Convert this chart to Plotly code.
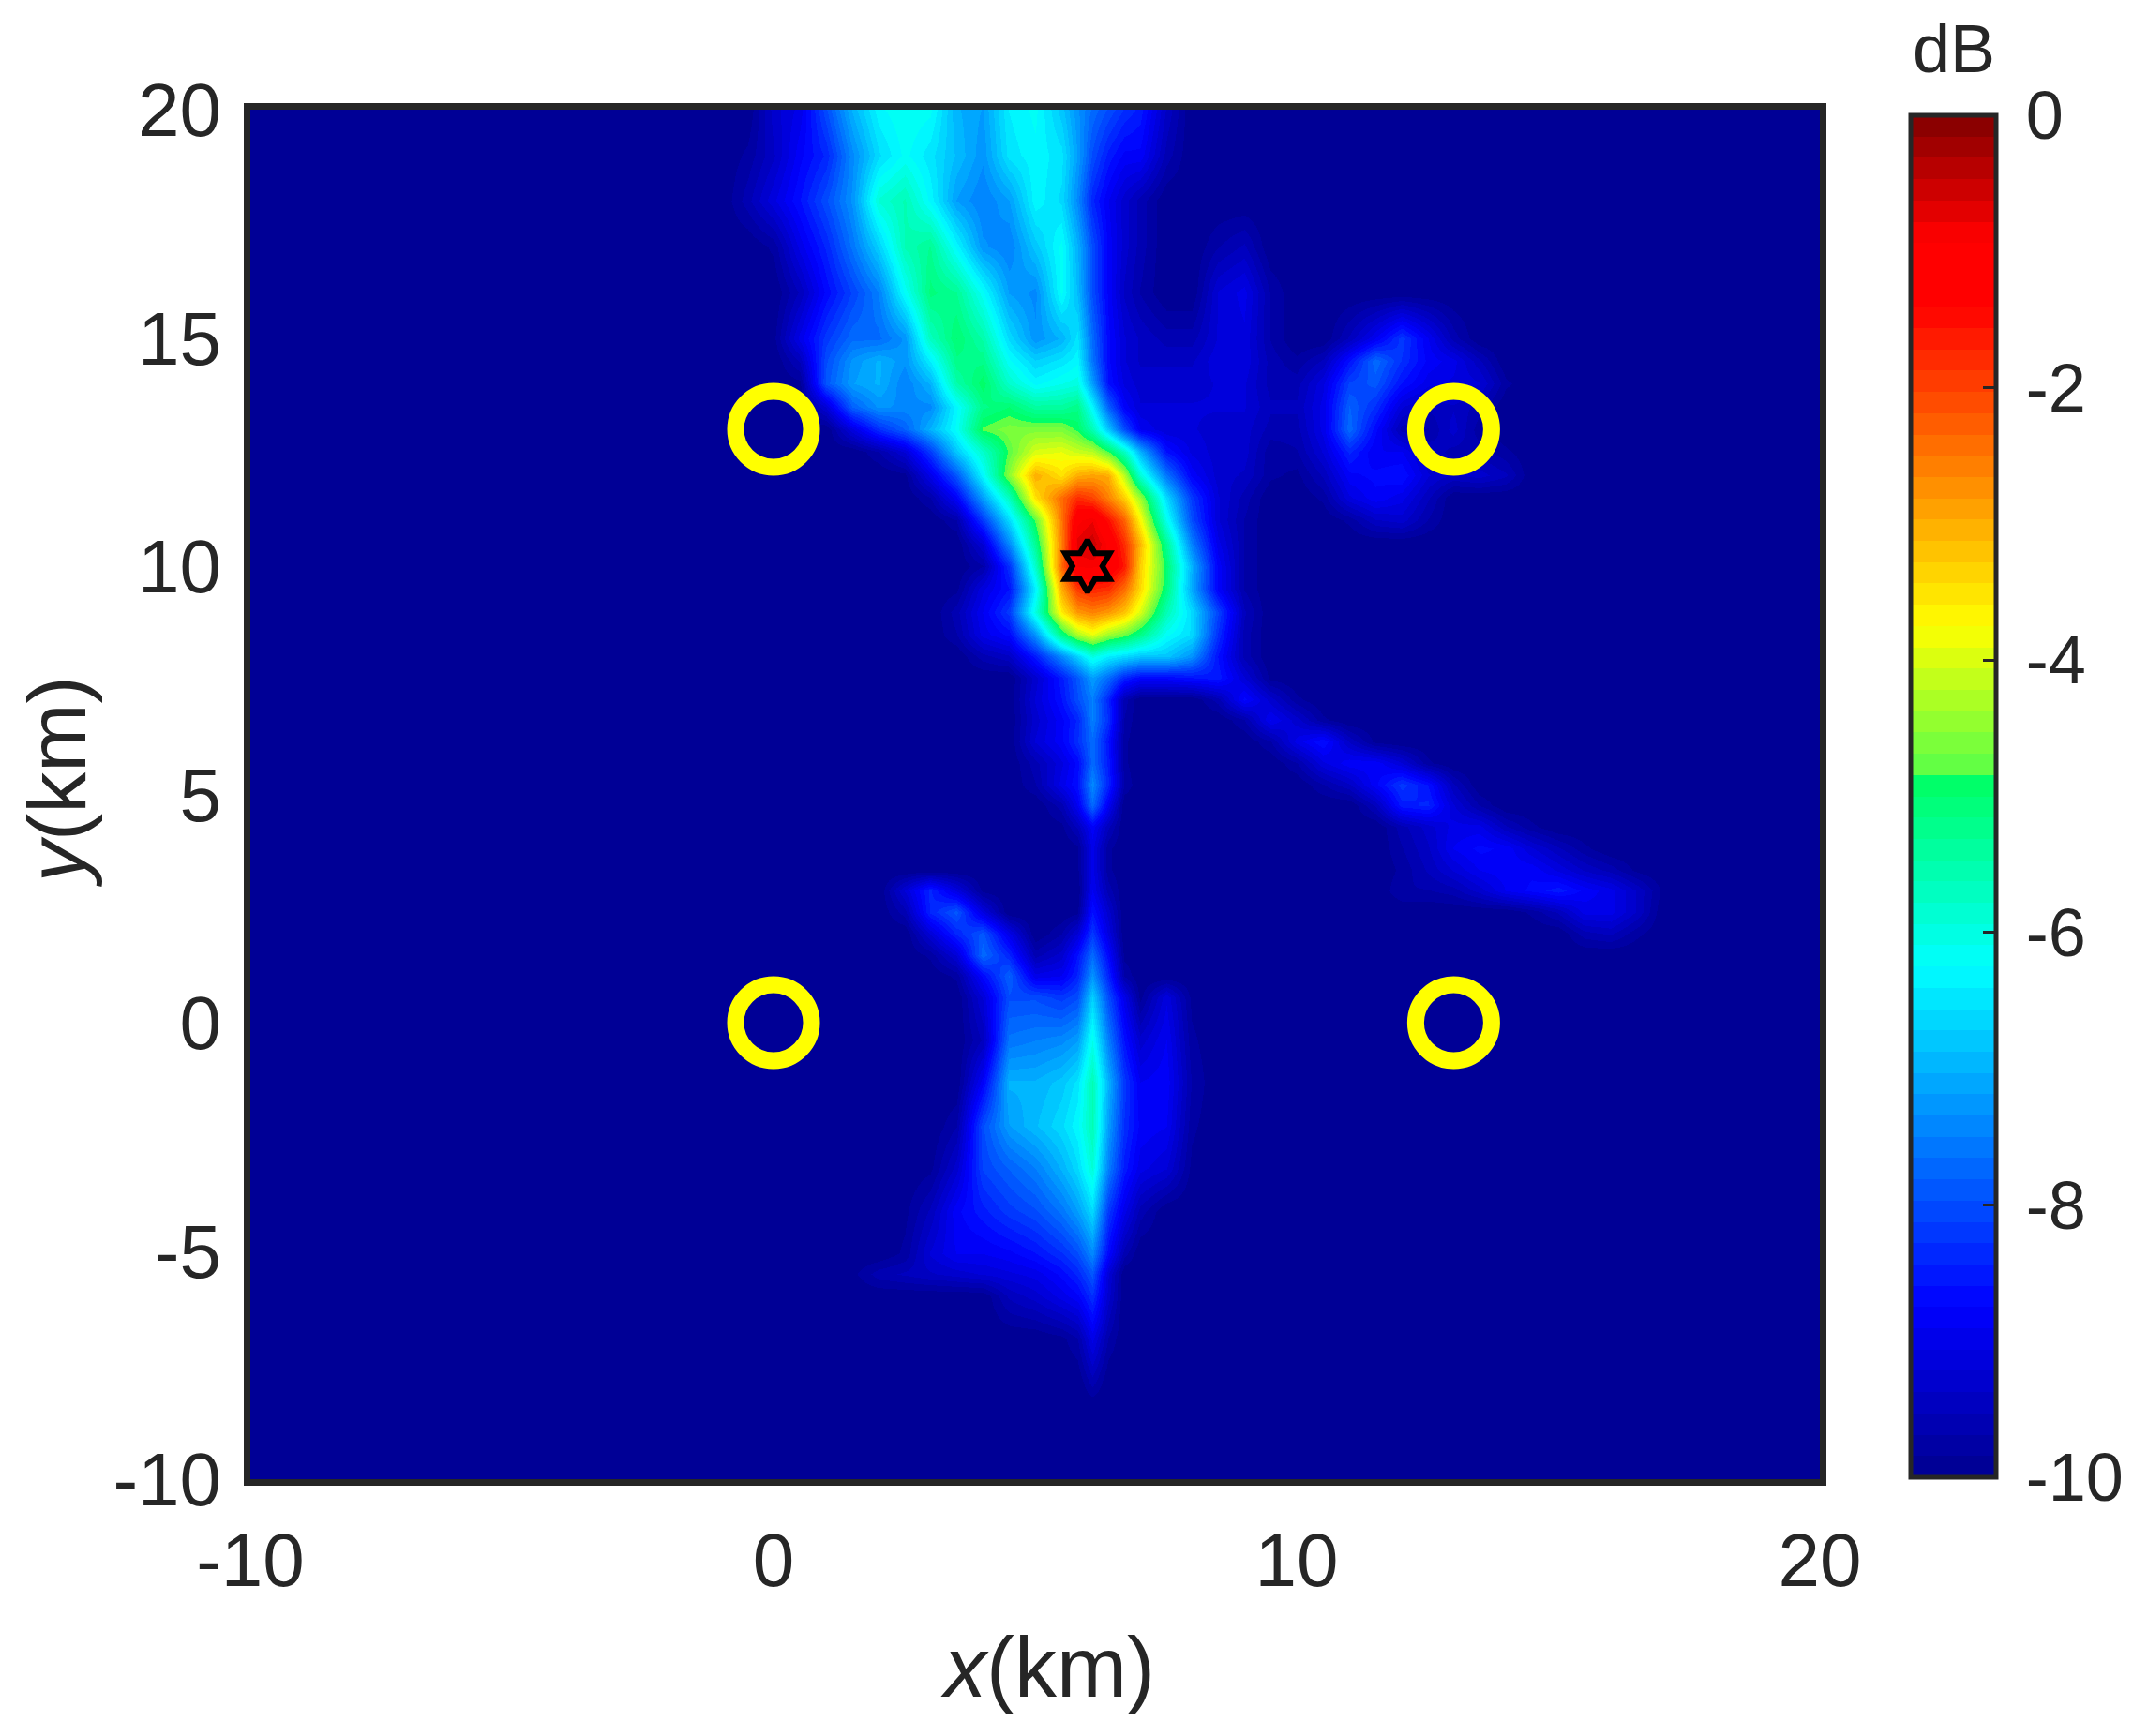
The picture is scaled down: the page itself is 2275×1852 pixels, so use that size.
import numpy as np
import plotly.graph_objects as go

_ = -10  # background level (dB)

# grid, km
X_KM = [-1, -0.5, 0, 0.5, 1, 1.5, 2, 2.5, 3, 3.5, 4, 4.5, 5, 5.5, 5.8, 6.1, 6.4, 6.7,
        7, 7.5, 8, 8.5, 9, 9.5, 10, 10.5, 11, 11.5, 12, 12.5, 13, 13.5, 14, 14.5, 15, 15.5, 16, 16.5, 17]

Y_KM = [20, 19, 18, 17, 16, 15, 14.5, 14, 13.5, 13, 12.5, 12, 11.5, 11, 10.5, 10, 9.5, 9, 8.5,
        8.03, 7.56, 7.09, 6.63, 6.16, 5.69, 5.22, 4.76, 4.29, 3.82, 3.35, 2.89, 2.42, 1.95, 1.48,
        1.02, 0.55, -0.39, -1.32, -2.26, -3.19, -4.13, -5.06, -5.5, -6, -6.93, -7.87, -8.4, -10]

# one row per Y_KM entry, columns follow X_KM, anything missing at the right end is background
Z_ROWS = [
    [_, _, -9.3, -9, -8, -7, -6.3, -6.1, -6.2, -7, -7.2, -6.4, -6.2, -6.8, -7.3, -7.7, -8, -8.3, -8.5, -9.4],
    [_, -9.8, -9.4, -8.8, -8.4, -7.4, -6.6, -6.2, -6.5, -6.9, -7.3, -6.5, -6.3, -6.5, -7.2, -8, -8.5, -8.8, -8.8, -9.6],
    [_, -9.6, -9.1, -8.6, -8, -7.3, -5.9, -5.6, -6.3, -7.2, -7.5, -7.2, -6.3, -6.6, -7.4, -8.4, -8.9, -9.3, -9.6],
    [_, _, -9.8, -9, -8.4, -7.6, -6.7, -5.6, -5.3, -6.3, -7.3, -7.5, -6.8, -6.2, -7, -8, -8.8, -9.3, -9.6, _, _, -9.7, -9.5],
    [_, _, _, -9.5, -8.7, -8.1, -7.5, -6.2, -5.1, -5.3, -6.2, -7.2, -7.4, -6.2, -6.9, -8, -8.8, -9.4, -9.7, _, _, -9.2, -9, -9.7],
    [_, _, -9.9, -9, -8.2, -7.7, -7.7, -7.3, -5.7, -5, -5.5, -6.6, -7.3, -7, -6.5, -7.7, -8.7, -9.2, -9.4, -9.6, -9.6, -9.2, -9.1, -9.7, _, _, -9.5, -8.9, -8.2, -8.9, -9.6],
    [_, _, _, -9.5, -8, -7.3, -7, -7.3, -6.4, -5.2, -5.2, -6.2, -6.7, -6.5, -6.3, -7.6, -8.7, -9.2, -9.4, -9.4, -9.4, -9.1, -9.1, -9.6, -9.8, -9.5, -8.6, -7.7, -8.3, -8.8, -9, -9.5],
    [_, _, _, -9.9, -7.9, -7.2, -7, -7.5, -7, -5.5, -4.9, -5.8, -6.3, -6.1, -6, -7.2, -8.6, -9.1, -9.3, -9.3, -9.3, -9.2, -9.2, -9.6, -9.6, -9.1, -8.1, -7.9, -8.6, -9, -9.1, -9.2, -9.8],
    [_, _, _, _, -9.2, -7.8, -7.3, -7.4, -7.4, -6.3, -5.2, -5, -5.4, -5.4, -5.2, -6.3, -7.8, -8.8, -9.2, -9.2, -9.2, -9.2, -9.2, -9.5, -9.5, -9, -7.8, -8.3, -9.2, -9.5, -9.4, -9.6],
    [_, _, _, _, _, -9.1, -8.3, -7.8, -7, -6.2, -4.8, -4.6, -4.6, -4.6, -4.9, -5.6, -6.8, -8, -8.9, -9.2, -9.2, -9.3, -9.3, -9.6, -9.6, -9, -7.7, -8.7, -9.6, -9.7, -9.3, -9.8],
    [_, _, _, _, _, _, -9.7, -9.2, -8.2, -6.8, -5.8, -4.8, -4, -3.9, -4.1, -4.2, -4.8, -5.7, -7, -8.6, -9.1, -9.3, -9.3, -9.8, -9.7, -9.2, -8.4, -8.9, -8.9, -9.4, -9.6, -9.6, -9.8],
    [_, _, _, _, _, _, _, -9.9, -9, -7.9, -6.3, -4.5, -3, -3.5, -3, -2.9, -3, -4.2, -5.9, -7.6, -8.8, -9.3, -9.4, -9.8, -9.9, -9.5, -8.8, -8.7, -8.6, -9.2, -9.4, -9.3, -9.5],
    [_, _, _, _, _, _, _, _, -9.7, -8.8, -7.2, -5.7, -3.5, -2.4, -1.8, -2, -2.6, -3.3, -4.4, -6.6, -8.2, -9.2, -9.6, _, _, -9.8, -9.1, -8.8, -9, -9.5],
    [_, _, _, _, _, _, _, _, _, -9.7, -8.2, -6.6, -4.8, -2.5, -1, -0.8, -1.5, -2.3, -3.7, -6.1, -8, -9.2, -9.7, _, _, _, -9.8, -9.4, -9.3, -9.7],
    [_, _, _, _, _, _, _, _, _, _, -9.2, -7.4, -5.3, -2.6, -0.7, -0.5, -1, -1.8, -3.1, -5.3, -7.5, -9, -9.7],
    [_, _, _, _, _, _, _, _, _, _, -9.7, -8.3, -5.8, -2.4, -0.9, -0.9, -1, -1.6, -3.3, -5, -7, -8.8, -9.7],
    [_, _, _, _, _, _, _, _, _, -9.9, -9.1, -8.6, -6.4, -3, -1.9, -1.7, -1.8, -2.4, -3.4, -5.1, -7.1, -8.8, -9.7],
    [_, _, _, _, _, _, _, _, _, -9.6, -8.9, -8.2, -6, -3.6, -2.8, -2.6, -2.8, -3.2, -4, -5.6, -6.6, -8.1, -9.5],
    [_, _, _, _, _, _, _, _, _, -9.7, -9, -8.7, -7.3, -5.2, -4.3, -3.9, -4.4, -4.7, -5.2, -6.2, -6.6, -8.3, -9.6],
    [_, _, _, _, _, _, _, _, _, _, -9.6, -9.4, -8.5, -7.4, -6.7, -6, -6.4, -6.6, -6.8, -6.8, -7.3, -8.6, -9.6],
    [_, _, _, _, _, _, _, _, _, _, _, _, -9.3, -8.5, -7.9, -7.2, -7.7, -8.4, -8.7, -8.7, -8.6, -8.5, -9.2, -9.9],
    [_, _, _, _, _, _, _, _, _, _, _, _, -9.2, -8.6, -8, -7.5, -8.4, -9.6, _, _, _, -9.6, -8.7, -9.3, -9.8],
    [_, _, _, _, _, _, _, _, _, _, _, _, -9.3, -8.8, -8.4, -7.5, -8.3, -9.7, _, _, _, _, -9.7, -8.9, -9.3, -9.8],
    [_, _, _, _, _, _, _, _, _, _, _, _, -9.2, -8.8, -8.3, -7.7, -8.6, -9.8, _, _, _, _, _, -9.7, -9, -8.6, -9.4, -9.9],
    [_, _, _, _, _, _, _, _, _, _, _, _, -9.6, -9.1, -8.7, -7.7, -8.5, -9.8, _, _, _, _, _, _, -9.7, -9.1, -8.8, -8.8, -9.2, -9.8],
    [_, _, _, _, _, _, _, _, _, _, _, _, -9.7, -9, -8.6, -7.4, -8.4, -9.7, _, _, _, _, _, _, _, -9.7, -9.4, -8.8, -8.2, -8.6, -9.5],
    [_, _, _, _, _, _, _, _, _, _, _, _, _, -9.6, -8.9, -7.7, -8.9, _, _, _, _, _, _, _, _, _, _, -9.5, -8.5, -8.4, -9.2, -9.7],
    [_, _, _, _, _, _, _, _, _, _, _, _, _, -9.9, -9.5, -8.8, -9.5, _, _, _, _, _, _, _, _, _, _, _, -9.6, -9.3, -9, -9, -9.5, -9.8],
    [_, _, _, _, _, _, _, _, _, _, _, _, _, _, -9.9, -9, -9.8, _, _, _, _, _, _, _, _, _, _, _, -9.7, -9.4, -8.9, -8.7, -8.8, -9.2, -9.5, -9.8],
    [_, _, _, _, _, _, _, _, _, _, _, _, _, _, -9.9, -9, -9.8, _, _, _, _, _, _, _, _, _, _, _, -9.8, -9.5, -9.2, -8.9, -8.8, -8.8, -9.1, -9.4, -9.6, -9.9],
    [_, _, _, _, _, _, _, -9.2, -8.4, -9.1, -9.9, _, _, _, _, -8.9, -9.6, _, _, _, _, _, _, _, _, _, _, _, -9.7, -9.7, -9.6, -9.3, -8.9, -8.7, -8.5, -8.8, -9, -9.4, -9.9],
    [_, _, _, _, _, _, _, -9.6, -8.4, -7.9, -9.1, _, _, _, -9.9, -8.6, -9.3, _, _, _, _, _, _, _, _, _, _, _, _, _, _, _, _, -9.8, -9.5, -9, -9, -9.4],
    [_, _, _, _, _, _, _, _, -9.2, -8.4, -7.9, -9, _, -9.7, -9.2, -8.2, -9.1, _, _, _, _, _, _, _, _, _, _, _, _, _, _, _, _, _, _, -9.6, -9.5, -9.8],
    [_, _, _, _, _, _, _, _, -9.8, -9.2, -7.7, -8.4, -9.6, -9.3, -8.6, -7.7, -8.7, -9.9],
    [_, _, _, _, _, _, _, _, _, -9.8, -8.7, -7.8, -9, -8.9, -8.4, -7.3, -8.4, -9.7],
    [_, _, _, _, _, _, _, _, _, _, -9.2, -8, -8, -8.2, -8, -6.7, -8, -9, -9.9, -9.1, -9.9],
    [_, _, _, _, _, _, _, _, _, _, -9.5, -7.6, -7.5, -7.4, -7.2, -6.1, -7.5, -8.6, -9.3, -8.9, -9.8],
    [_, _, _, _, _, _, _, _, _, _, -8.8, -7, -7, -6.8, -6.5, -5.6, -7, -8.2, -8.9, -8.8, -9.7],
    [_, _, _, _, _, _, _, _, _, -9.7, -8, -7.2, -6.9, -6.6, -6.3, -5.6, -7.2, -8.3, -8.8, -8.9, -9.8],
    [_, _, _, _, _, _, _, _, -9.9, -9.3, -8.1, -7.8, -7.5, -7, -6.6, -5.9, -7.5, -8.5, -9, -9.2, -9.9],
    [_, _, _, _, _, _, _, -9.9, -9.5, -8.8, -8.5, -8.2, -8, -7.6, -7.2, -6.6, -8.2, -9, -9.6],
    [_, _, _, _, _, _, _, -9.8, -9.2, -8.9, -8.9, -8.8, -8.6, -8.3, -8, -7.4, -8.7, -9.6],
    [_, _, _, _, _, -9.9, -9.6, -9.5, -9.4, -9.3, -9.2, -9.1, -9, -8.7, -8.4, -7.9, -9.2],
    [_, _, _, _, _, _, _, _, _, _, _, -9.5, -9.3, -9, -8.8, -8.3, -9.3],
    [_, _, _, _, _, _, _, _, _, _, _, _, _, -9.9, -9.7, -9, -9.7],
    [_, _, _, _, _, _, _, _, _, _, _, _, _, _, _, -9.6],
    [_],
    [_],
]

RX_X = [0, 13, 0, 13]
RX_Y = [13, 13, 0, 0]
SOURCE_X = [6]
SOURCE_Y = [10]

X_TICKS = [-10, 0, 10, 20]
X_TICK_LABELS = ["-10", "0", "10", "20"]
Y_TICKS = [-10, -5, 0, 5, 10, 15, 20]
Y_TICK_LABELS = ["-10", "-5", "0", "5", "10", "15", "20"]
CB_TICKS = [-10, -8, -6, -4, -2, 0]
# thin space keeps the labels off the bar, colorbars have no standoff
CB_TICK_LABELS = ["\u2009-10", "\u2009-8", "\u2009-6", "\u2009-4", "\u2009-2", "\u20090"]

# colormap anchors: dB level and r, g, b
CMAP_DB = [-10, -8.75, -6.25, -4.87, -4.86, -3.75, -1.4, -0.9, 0]
CMAP_R = [0, 0, 0, 0, 85, 255, 255, 255, 128]
CMAP_G = [0, 0, 255, 255, 255, 255, 0, 0, 0]
CMAP_B = [143, 255, 255, 100, 75, 0, 0, 0, 0]

INK = "#262626"
FONT = "Liberation Sans"
W, H = 2275, 1852
# plot box in page pixels
BOX_L, BOX_R, BOX_T, BOX_B = 259, 1933, 109, 1570


def px_x(p):
    return (p - BOX_L) / (BOX_R - BOX_L)


def px_y(p):
    return 1 - (p - BOX_T) / (BOX_B - BOX_T)


# 64 flat bands like the original colorbar
colorscale = []
n_bands = 64
for i in range(n_bands):
    mid = -10 + (i + 0.5) * 10 / n_bands
    r = int(np.interp(mid, CMAP_DB, CMAP_R))
    g = int(np.interp(mid, CMAP_DB, CMAP_G))
    b = int(np.interp(mid, CMAP_DB, CMAP_B))
    c = f"rgb({r},{g},{b})"
    colorscale.append([i / n_bands, c])
    colorscale.append([(i + 1) / n_bands, c])

# pad the rows out to the full plot extent, heatmap wants y ascending
x_full = [-10] + X_KM + [20]
z_full = []
for row in Z_ROWS:
    z_full.append([_] + row + [_] * (len(X_KM) - len(row)) + [_])
y_asc = Y_KM[::-1]
z_asc = z_full[::-1]

fig = go.Figure()
fig.add_trace(go.Heatmap(
    x=x_full, y=y_asc, z=z_asc,
    zmin=-10, zmax=0, zsmooth="best",
    colorscale=colorscale,
    colorbar=dict(
        thicknessmode="pixels", thickness=91,
        lenmode="pixels", len=1453,
        x=px_x(2030), xanchor="left", xpad=0,
        y=px_y(115), yanchor="top", ypad=0,
        outlinewidth=5, outlinecolor=INK,
        ticks="inside", ticklen=16, tickwidth=3, tickcolor=INK,
        tickvals=CB_TICKS, ticktext=CB_TICK_LABELS,
        tickfont=dict(family=FONT, size=72, color=INK),
    ),
))
fig.add_trace(go.Scatter(
    x=RX_X, y=RX_Y, mode="markers", showlegend=False,
    marker=dict(symbol="circle-open", size=81, color="#ffff00", line=dict(width=18, color="#ffff00")),
))
fig.add_trace(go.Scatter(
    x=SOURCE_X, y=SOURCE_Y, mode="markers", showlegend=False,
    marker=dict(symbol="hexagram-open", size=42, color="#000000", line=dict(width=6, color="#000000")),
))

fig.update_xaxes(
    range=[-10, 20], tickvals=X_TICKS, ticktext=X_TICK_LABELS, automargin=False,
    showline=True, mirror=True, linewidth=7, linecolor=INK, showgrid=False, zeroline=False, ticks="",
    ticklabelstandoff=11,
    tickfont=dict(family=FONT, size=80, color=INK),
)
fig.update_yaxes(
    range=[-10, 20], tickvals=Y_TICKS, ticktext=Y_TICK_LABELS, automargin=False,
    showline=True, mirror=True, linewidth=7, linecolor=INK, showgrid=False, zeroline=False, ticks="",
    ticklabelstandoff=8,
    tickfont=dict(family=FONT, size=80, color=INK),
)
fig.update_layout(
    width=W, height=H, autosize=False,
    margin=dict(l=BOX_L, r=W - BOX_R, t=BOX_T, b=H - BOX_B, autoexpand=False),
    paper_bgcolor="white", plot_bgcolor="#00008f",
    showlegend=False,
    annotations=[
        dict(text="dB", x=px_x(2076), y=px_y(44), xref="paper", yref="paper", showarrow=False,
             xanchor="center", yanchor="middle", font=dict(family=FONT, size=72, color=INK)),
        dict(text="<i>x</i>(km)", x=px_x(1109), y=px_y(1771), xref="paper", yref="paper", showarrow=False,
             xanchor="center", yanchor="middle", font=dict(family=FONT, size=90, color=INK)),
        dict(text="<i>y</i>(km)", x=px_x(52), y=px_y(826), xref="paper", yref="paper", showarrow=False,
             xanchor="center", yanchor="middle", textangle=-90, font=dict(family=FONT, size=88, color=INK)),
    ],
)

fig.write_html("out.html")
